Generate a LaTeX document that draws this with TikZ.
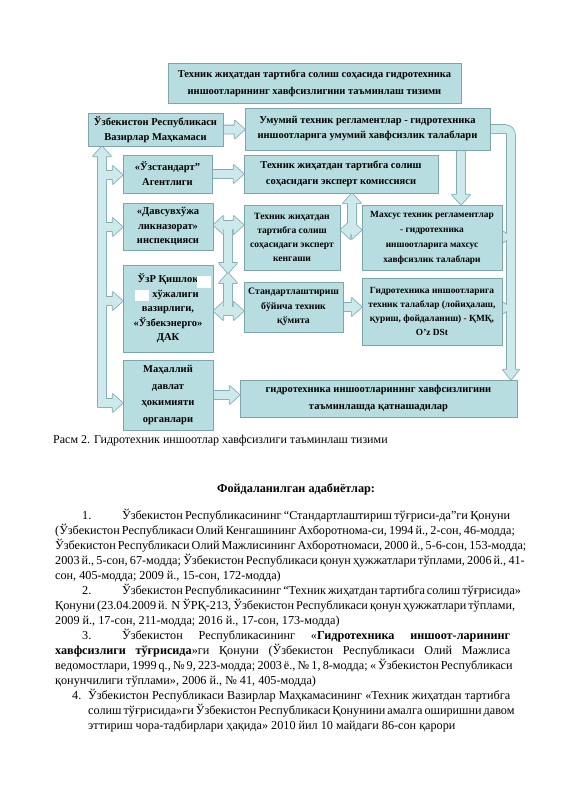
\documentclass[tikz,border=0pt]{standalone}
\usepackage{fontspec}
\setmainfont{Liberation Serif}
\usetikzlibrary{calc}
\definecolor{boxfill}{RGB}{183,221,224}
\definecolor{boxline}{RGB}{125,165,170}
\definecolor{arrfill}{RGB}{205,233,236}
\definecolor{arrline}{RGB}{128,172,178}
\pgfdeclarelayer{back}\pgfdeclarelayer{arr}\pgfsetlayers{back,arr,main}
\newcommand\bx[2]{\fontsize{#1}{#2}\selectfont\bfseries}
% block arrows: #1 style, #2 start, #3 end
\newcommand\RArr[3]{\path[#1] let \p1=(#2), \p2=(#3) in (\x1,\y1+4pt) -- (\x2-10pt,\y1+4pt) -- (\x2-10pt,\y1+9pt) -- (\x2,\y1) -- (\x2-10pt,\y1-9pt) -- (\x2-10pt,\y1-4pt) -- (\x1,\y1-4pt) -- cycle;}
\newcommand\RArrS[3]{\path[#1] let \p1=(#2), \p2=(#3) in (\x1,\y1+2.5pt) -- (\x2-8pt,\y1+2.5pt) -- (\x2-8pt,\y1+5.5pt) -- (\x2,\y1) -- (\x2-8pt,\y1-5.5pt) -- (\x2-8pt,\y1-2.5pt) -- (\x1,\y1-2.5pt) -- cycle;}
\newcommand\DArr[3]{\path[#1] let \p1=(#2), \p2=(#3) in (\x1-4pt,\y1) -- (\x1-4pt,\y2+10pt) -- (\x1-9pt,\y2+10pt) -- (\x1,\y2) -- (\x1+9pt,\y2+10pt) -- (\x1+4pt,\y2+10pt) -- (\x1+4pt,\y1) -- cycle;}
\newcommand\UArr[3]{\path[#1] let \p1=(#2), \p2=(#3) in (\x1-4pt,\y1) -- (\x1-4pt,\y2-10pt) -- (\x1-9pt,\y2-10pt) -- (\x1,\y2) -- (\x1+9pt,\y2-10pt) -- (\x1+4pt,\y2-10pt) -- (\x1+4pt,\y1) -- cycle;}
\newcommand\HHArr[3]{\path[#1] let \p1=(#2), \p2=(#3) in (\x1,\y1) -- (\x1+10pt,\y1+9pt) -- (\x1+10pt,\y1+4pt) -- (\x2-10pt,\y1+4pt) -- (\x2-10pt,\y1+9pt) -- (\x2,\y1) -- (\x2-10pt,\y1-9pt) -- (\x2-10pt,\y1-4pt) -- (\x1+10pt,\y1-4pt) -- (\x1+10pt,\y1-9pt) -- cycle;}
\newcommand\LoopArr[3]{\path[#1] let \p1=(#2), \p2=(#3) in (\x1,\y1+4pt) -- (\x2-6pt,\y1+4pt) to[out=0,in=90] (\x2+4pt,\y1-6pt) -- (\x2+4pt,\y2+10pt) -- (\x2+8pt,\y2+10pt) -- (\x2,\y2) -- (\x2-8pt,\y2+10pt) -- (\x2-4pt,\y2+10pt) -- (\x2-4pt,\y1-4pt) -- (\x1,\y1-4pt) -- cycle;}
\newcommand\AllArrows[1]{%
 \RArr{#1}{vaz.east}{umumiy.west}
 \RArr{#1}{uzst.east}{komissiya.west}
 \RArr{#1}{maxalliy.east}{bottom.west}
 \RArr{#1}{standart.east}{gidro.west}
 \DArr{#1}{umumiy.south -| colM}{maxsus.north}
 \HHArr{#1}{davsuv.east |- rowA}{kengashi.west}
 \HHArr{#1}{ozr.east |- rowB}{standart.west}
 \DArr{#1}{colV |- rowA}{colV |- rowMid}
 \UArr{#1}{colV |- rowB}{colV |- rowMid}
 \HHArr{#1}{kengashi.east |- rowC}{maxsus.west}
 \UArr{#1}{colK |- rowC}{komissiya.south}
 \UArr{#1}{busx |- rowBus}{vaz.south}
 \RArr{#1}{busxl |- rowBus}{maxalliy.west}
 \RArr{#1}{busx |- b1}{uzst.west}
 \RArr{#1}{busx |- b2}{davsuv.west}
 \RArr{#1}{busx |- b3}{ozr.west}
 \LoopArr{#1}{umumiy.east}{colR |- bottom.north}
 \RArrS{#1}{maxsus.east |- rowS1}{colR}
 \RArrS{#1}{gidro.east |- rowS2}{colR}
}
\tikzset{
 box/.style={draw=boxline, fill=boxfill, line width=0.8pt, inner sep=0pt, align=center, text=black},
 arrA/.style={draw=arrline, line width=1.6pt, fill=arrfill, line join=round},
 arrB/.style={fill=arrfill},
 ref/.style={inner sep=0pt, anchor=base west, font=\fontsize{12.2}{15}\selectfont},
}
\begin{document}
\begin{tikzpicture}[x=1pt,y=-1pt]
\useasboundingbox (0,0) rectangle (565,800);
\begin{pgfonlayer}{back}
\fill[white] (0,0) rectangle (565,800);
\end{pgfonlayer}

% boxes
\node[box, minimum width=293pt, minimum height=40pt, font=\bx{10.5}{17}] (title) at (314.5,83) {Техник жиҳатдан тартибга солиш соҳасида гидротехника\\иншоотларининг хавфсизлигини таъминлаш тизими};
\node[box, minimum width=135pt, minimum height=33pt, font=\bx{10.5}{15}] (vaz) at (155.5,129.5) {Ўзбекистон Республикаси\\Вазирлар Маҳкамаси};
\node[box, minimum width=245pt, minimum height=42pt, font=\bx{10.5}{15}] (umumiy) at (367.5,129) {Умумий техник регламентлар - гидротехника\\иншоотларига умумий хавфсизлик талаблари};
\node[box, minimum width=89pt, minimum height=38pt, font=\bx{10.5}{15}] (uzst) at (167.5,174) {«Ўзстандарт”\\Агентлиги};
\node[box, minimum width=194pt, minimum height=38pt, font=\bx{10.5}{16}] (komissiya) at (341,174) {Техник жиҳатдан тартибга солиш\\соҳасидаги эксперт комиссияси};
\node[box, minimum width=90pt, minimum height=47pt, font=\bx{10.5}{14.5}] (davsuv) at (168,226.5) {«Давсувхўжа\\ликназорат»\\инспекцияси};
\node[box, minimum width=96pt, minimum height=65pt, font=\bx{9.6}{13.8}] (kengashi) at (292,237.5) {Техник жиҳатдан\\тартибга солиш\\соҳасидаги эксперт\\кенгаши};
\node[box, minimum width=140pt, minimum height=65pt, font=\bx{9.4}{15}] (maxsus) at (432,237.5) {Махсус техник регламентлар\\- гидротехника\\иншоотларига махсус\\хавфсизлик талаблари};
\node[box, minimum width=90pt, minimum height=87pt, font=\bx{10.5}{14.5}] (ozr) at (168,308.5) {ЎзР Қишлоқ\hspace{16pt}\\\hspace{15pt}хўжалиги\\вазирлиги,\\«Ўзбекэнерго»\\ДАК};
\node[box, minimum width=99pt, minimum height=50pt, font=\bx{9.8}{14.5}] (standart) at (293.5,307) {Стандартлаштириш\\бўйича техник\\қўмита};
\node[box, minimum width=140pt, minimum height=67pt, font=\bx{9.4}{14}] (gidro) at (432,311.5) {Гидротехника иншоотларига\\техник талаблар (лойиҳалаш,\\қуриш, фойдаланиш) - ҚМҚ,\\O’z DSt};
\node[box, minimum width=90pt, minimum height=70pt, font=\bx{10.5}{16.5}] (maxalliy) at (168,395) {Маҳаллий\\давлат\\ҳокимияти\\органлари};
\node[box, minimum width=277pt, minimum height=37pt, font=\bx{10.5}{17}] (bottom) at (378.5,398.5) {гидротехника иншоотларининг хавфсизлигини\\таъминлашда қатнашадилар};

% white patches in the ministry box
\fill[white] (197,276) rectangle (211,288);
\fill[white] (135,290) rectangle (149,301);

% helper coordinates
\coordinate (busx) at (102,0);
\coordinate (busxl) at (98,0);
\coordinate (rowBus) at (0,403);
\coordinate (b1) at (0,175);
\coordinate (b2) at (0,227);
\coordinate (b3) at (0,301);
\coordinate (colM) at (461,0);
\coordinate (colV) at (228,0);
\coordinate (rowA) at (0,225);
\coordinate (rowB) at (0,311);
\coordinate (rowMid) at (0,273);
\coordinate (colK) at (352,0);
\coordinate (rowC) at (0,230);
\coordinate (colR) at (511,0);
\coordinate (rowS1) at (0,237);
\coordinate (rowS2) at (0,308);

\begin{pgfonlayer}{arr}
\AllArrows{arrA}
\AllArrows{arrB}
\end{pgfonlayer}

% caption and references
\node[inner sep=0pt, anchor=base west, font=\fontsize{12}{14}\selectfont] (cap) at (53,443) {Расм 2. Гидротехник иншоотлар хавфсизлиги таъминлаш тизими};
\node[inner sep=0pt, anchor=base, font=\fontsize{12.2}{15}\selectfont\bfseries] (head) at (296,492) {Фойдаланилган адабиётлар:};

\node[ref] (n1) at (82,519) {1.};
\node[ref] (p1a) at (122,519) {\makebox[388pt][s]{Ўзбекистон Республикасининг “Стандартлаштириш тўғриси-да”ги Қонуни}};
\node[ref] (p1b) at (55,534) {\makebox[455pt][s]{(Ўзбекистон Республикаси Олий Кенгашининг Ахборотнома-си, 1994 й., 2-сон, 46-модда;}};
\node[ref] (p1c) at (55,549) {\makebox[455pt][s]{Ўзбекистон Республикаси Олий Мажлисининг Ахборотномаси, 2000 й., 5-6-сон, 153-модда;}};
\node[ref] (p1d) at (55,564) {\makebox[455pt][s]{2003 й., 5-сон, 67-модда; Ўзбекистон Республикаси қонун ҳужжатлари тўплами, 2006 й., 41-}};
\node[ref] (p1e) at (55,579) {сон, 405-модда; 2009 й., 15-сон, 172-модда)};

\node[ref] (n2) at (82,594) {2.};
\node[ref] (p2a) at (122,594) {\makebox[388pt][s]{Ўзбекистон Республикасининг “Техник жиҳатдан тартибга солиш тўғрисида»}};
\node[ref] (p2b) at (55,609) {\makebox[455pt][s]{Қонуни (23.04.2009 й. N ЎРҚ-213, Ўзбекистон Республикаси қонун ҳужжатлари тўплами,}};
\node[ref] (p2c) at (55,624) {2009 й., 17-сон, 211-модда; 2016 й., 17-сон, 173-модда)};

\node[ref] (n3) at (82,639) {3.};
\node[ref] (p3a) at (122,639) {\makebox[388pt][s]{Ўзбекистон Республикасининг «\textbf{Гидротехника иншоот-ларининг}}};
\node[ref] (p3b) at (55,654) {\makebox[455pt][s]{\textbf{хавфсизлиги тўғрисида}»ги Қонуни (Ўзбекистон Республикаси Олий Мажлиса}};
\node[ref] (p3c) at (55,669) {\makebox[455pt][s]{ведомостлари, 1999 q., № 9, 223-модда; 2003 ё., № 1, 8-модда; « Ўзбекистон Республикаси}};
\node[ref] (p3d) at (55,684) {қонунчилиги тўплами», 2006 й., № 41, 405-модда)};

\node[ref] (n4) at (72,699) {4.};
\node[ref] (p4a) at (88,699) {\makebox[422pt][s]{Ўзбекистон Республикаси Вазирлар Маҳкамасининг «Техник жиҳатдан тартибга}};
\node[ref] (p4b) at (88,714) {\makebox[422pt][s]{солиш тўғрисида»ги Ўзбекистон Республикаси Қонунини амалга оширишни давом}};
\node[ref] (p4c) at (88,729) {эттириш чора-тадбирлари ҳақида» 2010 йил 10 майдаги 86-сон қарори};
\end{tikzpicture}
\end{document}
